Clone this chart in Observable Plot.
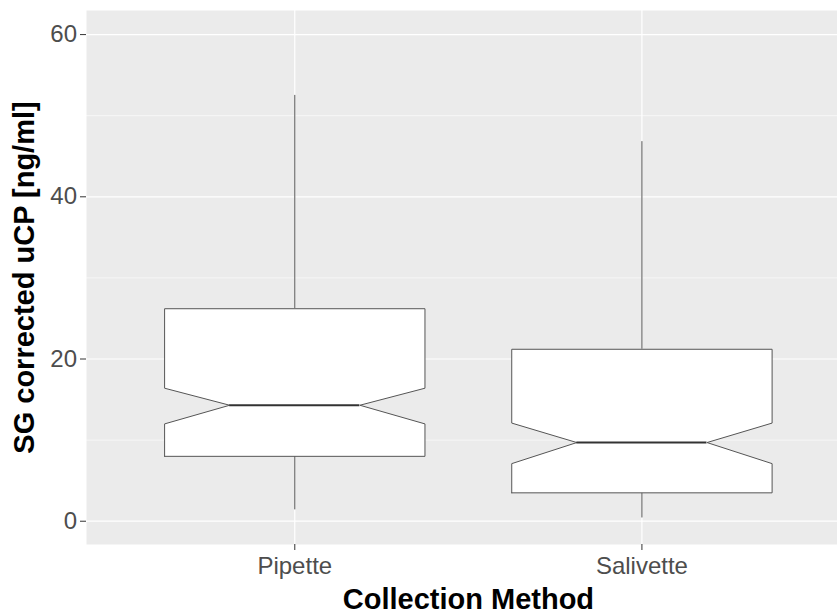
<!DOCTYPE html>
<html>
<head>
<meta charset="utf-8">
<script src="https://cdn.jsdelivr.net/npm/d3@7"></script>
<script src="https://cdn.jsdelivr.net/npm/@observablehq/plot@0.6"></script>
<style>
  html, body { margin: 0; padding: 0; background: #ffffff; }
  #chart svg { display: block; }
</style>
</head>
<body>
<div id="chart"></div>
<script>
// ---- data ----
const categories   = ["Pipette", "Salivette"];
const whiskerLow   = [1.4, 0.4];
const q1           = [8.0, 3.5];
const median       = [14.3, 9.7];
const q3           = [26.2, 21.2];
const whiskerHigh  = [52.5, 46.8];
const notchLow     = [12.0, 7.1];
const notchHigh    = [16.4, 12.1];
const yMajorTicks  = [0, 20, 40, 60];
const yMinorTicks  = [10, 30, 50];
const xTitle = "Collection Method";
const yTitle = "SG corrected uCP [ng/ml]";

// ---- derived tables for the marks ----
const halfBox = 0.375, halfNotch = 0.1875;
const boxes = categories.map((c, i) => ({
  c, x: i + 1, q1: q1[i], med: median[i], q3: q3[i],
  nlo: notchLow[i], nhi: notchHigh[i], wlo: whiskerLow[i], whi: whiskerHigh[i]
}));
const outline = boxes.flatMap(b => [
  [b.x - halfBox, b.q1], [b.x - halfBox, b.nlo], [b.x - halfNotch, b.med],
  [b.x - halfBox, b.nhi], [b.x - halfBox, b.q3], [b.x + halfBox, b.q3],
  [b.x + halfBox, b.nhi], [b.x + halfNotch, b.med], [b.x + halfBox, b.nlo],
  [b.x + halfBox, b.q1], [b.x - halfBox, b.q1]
].map(([x, y]) => ({c: b.c, x, y})));
const medians = boxes.map(b => ({c: b.c, x1: b.x - halfNotch, x2: b.x + halfNotch, y: b.med}));

const font = "'Liberation Sans', Arial, sans-serif";
const W = 837, H = 614, mL = 86, mT = 10, mB = 70;

const chart = Plot.plot({
  width: W, height: H,
  marginLeft: mL, marginRight: 0, marginTop: mT, marginBottom: mB,
  style: {fontFamily: font, background: "#ffffff", overflow: "hidden"},
  x: {type: "linear", domain: [0.4, 2.6], range: [mL, 849.7], axis: null},
  y: {domain: [-2.87, 62.97], axis: null},
  marks: [
    Plot.frame({fill: "#EBEBEB", stroke: "none"}),
    Plot.gridY(yMinorTicks, {stroke: "#ffffff", strokeOpacity: 1, strokeWidth: 0.6}),
    Plot.gridY(yMajorTicks, {stroke: "#ffffff", strokeOpacity: 1, strokeWidth: 1.2}),
    Plot.gridX(boxes.map(b => b.x), {stroke: "#ffffff", strokeOpacity: 1, strokeWidth: 1.2}),
    Plot.ruleX(boxes, {x: "x", y1: "wlo", y2: "q1", stroke: "#555555", strokeWidth: 1}),
    Plot.ruleX(boxes, {x: "x", y1: "q3", y2: "whi", stroke: "#555555", strokeWidth: 1}),
    Plot.line(outline, {x: "x", y: "y", z: "c", fill: "#ffffff", stroke: "#555555", strokeWidth: 1}),
    Plot.ruleY(medians, {x1: "x1", x2: "x2", y: "y", stroke: "#333333", strokeWidth: 2}),
    Plot.axisY(yMajorTicks, {
      anchor: "left", tickSize: 6, tickPadding: 3.5, label: null,
      stroke: "#333333", fill: "#4D4D4D", fontSize: 24
    }),
    Plot.axisX(boxes.map(b => b.x), {
      anchor: "bottom", tickSize: 6, tickPadding: 6, label: null,
      tickFormat: d => categories[d - 1],
      stroke: "#333333", fill: "#4D4D4D", fontSize: 24
    }),
    Plot.text([xTitle], {
      frameAnchor: "bottom", dx: 6.4, dy: 55, text: d => d, textAnchor: "middle",
      fontSize: 29, fontWeight: "bold", fill: "#000000", lineAnchor: "middle"
    }),
    Plot.text([yTitle], {
      frameAnchor: "left", dx: -62, text: d => d, rotate: -90, textAnchor: "middle",
      fontSize: 29, fontWeight: "bold", fill: "#000000", lineAnchor: "middle"
    })
  ]
});
document.getElementById("chart").appendChild(chart);
</script>
</body>
</html>
